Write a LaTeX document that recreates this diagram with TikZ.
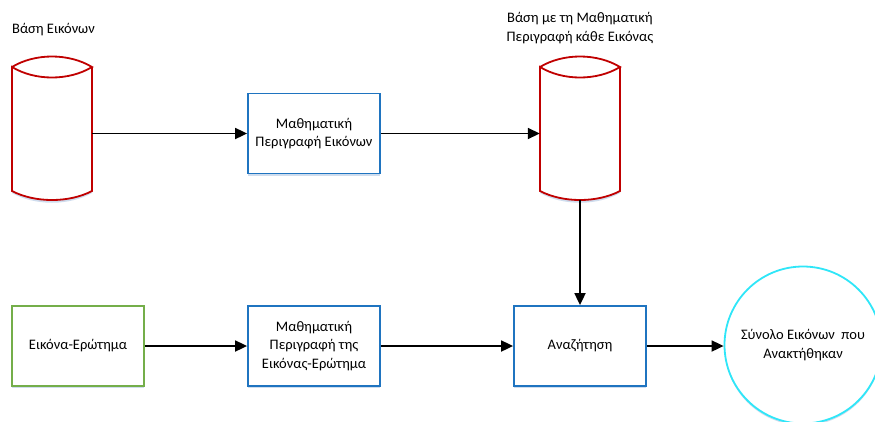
\documentclass[tikz,border=0pt]{standalone}
\usepackage{fontspec}
\setmainfont{Carlito}
\usetikzlibrary{arrows.meta,shadows}
\definecolor{dbred}{HTML}{C00000}
\definecolor{procblue}{HTML}{1F74C0}
\definecolor{querygreen}{HTML}{74AE4A}
\definecolor{resultcyan}{HTML}{2FE6F8}
\definecolor{shadowblue}{HTML}{CFDDEE}
\tikzset{
  every node/.style={font=\fontsize{14.5}{18.5}\selectfont},
  softshadow/.style={drop shadow={shadow xshift=0pt, shadow yshift=-2pt, fill=shadowblue, opacity=1}},
  procbox/.style={draw=procblue, line width=1.8pt, fill=white, minimum width=132pt,
    minimum height=80pt, align=center, inner sep=0pt, softshadow},
  querybox/.style={procbox, draw=querygreen},
  result/.style={circle, draw=resultcyan, line width=1.8pt, fill=white, minimum size=157pt,
    align=center, inner sep=0pt, softshadow},
  dbholder/.style={minimum width=80pt, minimum height=143pt, inner sep=0pt},
  dbline/.style={draw=dbred, line width=1.8pt},
  flow/.style={line width=1.8pt, -{Triangle[length=12pt,width=11pt]}},
}
\begin{document}
\begin{tikzpicture}[x=1pt,y=-1pt]
\useasboundingbox (0,0) rectangle (875,421);
\clip (0,0) rectangle (875,421);

% image database cylinder
\node[dbholder] (dbA) at (52,128.5) {};
\fill[shadowblue] (12,193) .. controls (35,206) and (69,206) .. (92,193) -- (92,191)
  .. controls (69,203) and (35,203) .. (12,191) -- cycle;
\path[dbline] (12,67) .. controls (35,53) and (69,53) .. (92,67)
  .. controls (69,81) and (35,81) .. (12,67) -- (12,191)
  .. controls (35,203) and (69,203) .. (92,191) -- (92,67);
\node[anchor=base west, inner sep=0pt] (labA) at (12,33.5) {Βάση Εικόνων};

% descriptor database cylinder
\node[dbholder] (dbB) at (580,128.5) {};
\fill[shadowblue] (540,193) .. controls (563,206) and (597,206) .. (620,193) -- (620,191)
  .. controls (597,203) and (563,203) .. (540,191) -- cycle;
\path[dbline] (540,67) .. controls (563,53) and (597,53) .. (620,67)
  .. controls (597,81) and (563,81) .. (540,67) -- (540,191)
  .. controls (563,203) and (597,203) .. (620,191) -- (620,67);
\node[align=center, inner sep=0pt] (labB) at (580,28) {Βάση με τη Μαθηματική\\Περιγραφή κάθε Εικόνας};

% processing boxes
\node[procbox] (descA) at (314,133.5) {Μαθηματική\\Περιγραφή Εικόνων};
\node[querybox] (query) at (78,346) {Εικόνα-Ερώτημα};
\node[procbox] (descQ) at (314,346) {Μαθηματική\\Περιγραφή της\\Εικόνας-Ερώτημα};
\node[procbox] (search) at (580,346) {Αναζήτηση};
\node[result] (res) at (803,345) {Σύνολο Εικόνων\ \ που\\Ανακτήθηκαν};

% connectors
\draw[flow] (dbA.east |- descA.west) -- (descA.west);
\draw[flow] (descA.east) -- (dbB.west |- descA.east);
\draw[flow] (dbB.south) -- (search.north);
\draw[flow] (query.east) -- (descQ.west);
\draw[flow] (descQ.east) -- (search.west);
\draw[flow] (search.east) -- (res.west |- search.east);
\end{tikzpicture}
\end{document}
